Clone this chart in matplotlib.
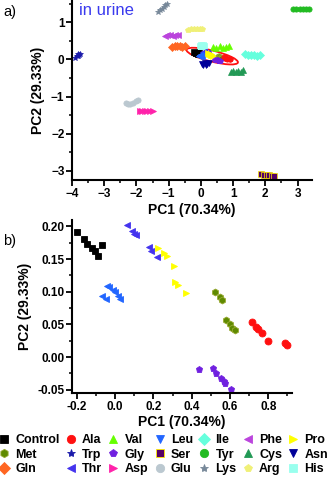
import matplotlib
matplotlib.use('Agg')
import matplotlib.pyplot as plt
from matplotlib.patches import Ellipse
from matplotlib.lines import Line2D
from matplotlib.ticker import MultipleLocator
import matplotlib.transforms as mtransforms

plt.rcParams['font.family'] = ['Liberation Sans', 'DejaVu Sans']
plt.rcParams['font.weight'] = 'bold'

# groups inside the ellipse (shown in both panels)
control_x = [-0.200, -0.160, -0.145, -0.119, -0.104, -0.089, -0.066]
control_y = [0.192, 0.180, 0.173, 0.167, 0.163, 0.155, 0.172]
thr_x = [0.061, 0.087, 0.099, 0.108, 0.177, 0.188, 0.221]
thr_y = [0.202, 0.193, 0.189, 0.187, 0.168, 0.163, 0.153]
leu_x = [-0.043, -0.031, -0.012, 0.000, -0.070, -0.049, 0.014, 0.026]
leu_y = [0.109, 0.107, 0.103, 0.100, 0.094, 0.089, 0.094, 0.089]
pro_x = [0.226, 0.257, 0.270, 0.308, 0.313, 0.330, 0.369]
pro_y = [0.167, 0.160, 0.154, 0.140, 0.115, 0.110, 0.098]
met_x = [0.522, 0.548, 0.557, 0.579, 0.600, 0.612, 0.626]
met_y = [0.100, 0.092, 0.088, 0.056, 0.050, 0.045, 0.041]
ala_x = [0.713, 0.734, 0.748, 0.769, 0.800, 0.889, 0.899]
ala_y = [0.054, 0.0465, 0.0426, 0.037, 0.025, 0.022, 0.0186]
gly_x = [0.440, 0.510, 0.527, 0.553, 0.569, 0.576, 0.604]
gly_y = [-0.019, -0.0165, -0.024, -0.0315, -0.036, -0.040, -0.0485]

# groups outside the ellipse (panel a only)
lys_x = [-1.34, -1.28, -1.22, -1.16, -1.10, -1.04]
lys_y = [1.28, 1.32, 1.37, 1.41, 1.46, 1.50]
tyr_x = [2.86, 2.96, 3.06, 3.16, 3.26, 3.35]
tyr_y = [1.35, 1.36, 1.35, 1.36, 1.35, 1.36]
arg_x = [-0.40, -0.31, -0.22, -0.13, -0.04, 0.02]
arg_y = [0.80, 0.81, 0.82, 0.81, 0.82, 0.83]
phe_x = [-1.12, -1.04, -0.96, -0.88, -0.80, -0.72]
phe_y = [0.64, 0.66, 0.65, 0.64, 0.66, 0.65]
gln_x = [-0.90, -0.82, -0.74, -0.66, -0.58, -0.50]
gln_y = [0.34, 0.36, 0.35, 0.36, 0.34, 0.35]
his_x = [-0.04, 0.00, 0.03, 0.06, 0.09]
his_y = [0.36, 0.38, 0.37, 0.39, 0.37]
val_x = [0.38, 0.48, 0.58, 0.68, 0.78, 0.88]
val_y = [0.34, 0.31, 0.36, 0.32, 0.33, 0.35]
ile_x = [1.38, 1.47, 1.56, 1.65, 1.74, 1.82]
ile_y = [0.16, 0.13, 0.11, 0.12, 0.09, 0.11]
cys_x = [0.92, 1.00, 1.08, 1.16, 1.24, 1.30]
cys_y = [-0.34, -0.32, -0.35, -0.31, -0.33, -0.28]
asn_x = [0.04, 0.08, 0.12, 0.16, 0.20, 0.25]
asn_y = [-0.12, -0.15, -0.10, -0.16, -0.13, -0.09]
trp_x = [-3.90, -3.86, -3.82, -3.80, -3.77, -3.74]
trp_y = [0.05, 0.10, 0.14, 0.08, 0.12, 0.16]
glu_x = [-2.33, -2.26, -2.20, -2.10, -2.01, -1.96]
glu_y = [-1.18, -1.20, -1.20, -1.18, -1.12, -1.08]
asp_x = [-1.90, -1.82, -1.74, -1.66, -1.58, -1.50]
asp_y = [-1.39, -1.40, -1.38, -1.40, -1.39, -1.38]
ser_x = [1.88, 1.96, 2.04, 2.12, 2.20, 2.28]
ser_y = [-3.08, -3.10, -3.12, -3.11, -3.13, -3.14]

# name: (marker, face, edge)
styles = {
    'Control': ('s', '#000000', '#000000'),
    'Ala': ('o', '#ff1010', '#ff1010'),
    'Val': ('^', '#66ff00', '#66ff00'),
    'Leu': ('v', '#2266ff', '#2266ff'),
    'Ile': ('D', '#66ffdd', '#66ffdd'),
    'Phe': ('<', '#bb44dd', '#bb44dd'),
    'Pro': ('>', '#ffff00', '#ffff00'),
    'Met': ('h', '#5f8a00', '#99aa33'),
    'Trp': ('*', '#1a1aaa', '#1a1aaa'),
    'Gly': ('p', '#7020e0', '#7020e0'),
    'Ser': ('s', '#550066', '#ffee00'),
    'Tyr': ('o', '#22bb22', '#22bb22'),
    'Cys': ('^', '#229955', '#229955'),
    'Asn': ('v', '#000099', '#000099'),
    'Gln': ('D', '#ff6622', '#ff6622'),
    'Thr': ('<', '#4433ee', '#4433ee'),
    'Asp': ('>', '#ff22aa', '#ff22aa'),
    'Glu': ('o', '#bbc8d0', '#bbc8d0'),
    'Lys': ('*', '#778899', '#778899'),
    'Arg': ('p', '#f0f077', '#f0f077'),
    'His': ('s', '#99ffee', '#99ffee'),
}

groups_a = [
    ('Lys', lys_x, lys_y), ('Tyr', tyr_x, tyr_y), ('Arg', arg_x, arg_y),
    ('Phe', phe_x, phe_y), ('Gln', gln_x, gln_y), ('His', his_x, his_y),
    ('Val', val_x, val_y), ('Ile', ile_x, ile_y), ('Cys', cys_x, cys_y),
    ('Asn', asn_x, asn_y), ('Trp', trp_x, trp_y), ('Glu', glu_x, glu_y),
    ('Asp', asp_x, asp_y), ('Ser', ser_x, ser_y),
]
groups_in = [
    ('Control', control_x, control_y), ('Thr', thr_x, thr_y),
    ('Leu', leu_x, leu_y), ('Pro', pro_x, pro_y), ('Met', met_x, met_y),
    ('Ala', ala_x, ala_y), ('Gly', gly_x, gly_y),
]

fig = plt.figure(figsize=(3.32, 4.78), dpi=100)
ax1 = fig.add_axes([0.217, 0.623, 0.723, 0.377])
ax2 = fig.add_axes([0.217, 0.178, 0.663, 0.362])


def style_axis(ax):
    for s in ['top', 'right']:
        ax.spines[s].set_visible(False)
    for s in ['left', 'bottom']:
        ax.spines[s].set_linewidth(1.5)
    ax.tick_params(which='major', direction='out', length=4, width=1.3,
                   labelsize=8.5, pad=1.5)
    ax.tick_params(which='minor', direction='out', length=2.5, width=1.1)


for name, xs, ys in groups_a:
    m, fc, ec = styles[name]
    ax1.plot(xs, ys, ls='none', marker=m, ms=3.8, mfc=fc, mec=ec, mew=0.5)
for name, xs, ys in groups_in:
    m, fc, ec = styles[name]
    if name == 'Leu':
        m = '<'
    ax1.plot(xs, ys, ls='none', marker=m, ms=3.8, mfc=fc, mec=ec, mew=0.5)

# confidence ellipse around the central cluster
trans = fig.dpi_scale_trans + mtransforms.ScaledTranslation(0.35, 0.09, ax1.transData)
ax1.add_patch(Ellipse((0, 0), 0.53, 0.11, angle=-14, fill=False,
                      edgecolor='#ff1010', lw=1.3, transform=trans))

ax1.set_xlim(-4, 3.45)
ax1.set_ylim(-3.25, 1.6)
ax1.xaxis.set_major_locator(MultipleLocator(1))
ax1.xaxis.set_minor_locator(MultipleLocator(0.5))
ax1.yaxis.set_major_locator(MultipleLocator(1))
ax1.yaxis.set_minor_locator(MultipleLocator(0.5))
style_axis(ax1)
ax1.set_xlabel('PC1 (70.34%)', fontsize=10, fontweight='bold', labelpad=2)
ax1.set_ylabel('PC2 (29.33%)', fontsize=10, fontweight='bold', labelpad=4)
ax1.text(0.03, 0.985, 'in urine', transform=ax1.transAxes, color='#3a3aee',
         fontsize=12, fontweight='normal', va='top', ha='left')

for name, xs, ys in groups_in:
    m, fc, ec = styles[name]
    if name == 'Leu':
        m = '<'
    ax2.plot(xs, ys, ls='none', marker=m, ms=5, mfc=fc, mec=ec, mew=0.6)

ax2.set_xlim(-0.225, 0.925)
ax2.set_ylim(-0.055, 0.21)
ax2.xaxis.set_major_locator(MultipleLocator(0.2))
ax2.xaxis.set_minor_locator(MultipleLocator(0.1))
ax2.yaxis.set_major_locator(MultipleLocator(0.05))
ax2.yaxis.set_minor_locator(MultipleLocator(0.025))
ax2.yaxis.set_major_formatter(plt.FormatStrFormatter('%.2f'))
ax2.xaxis.set_major_formatter(plt.FormatStrFormatter('%.1f'))
style_axis(ax2)
ax2.set_xlabel('PC1 (70.34%)', fontsize=10, fontweight='bold', labelpad=2)
ax2.set_ylabel('PC2 (29.33%)', fontsize=10, fontweight='bold', labelpad=4)

fig.text(0.01, 0.99, 'a)', fontsize=10.5, fontweight='normal', va='top')
fig.text(0.01, 0.495, 'b)', fontsize=10.5, fontweight='normal', va='center')

# legend: 3 rows x 7 columns, read row-wise in the picture
legend_rows = [
    ['Control', 'Ala', 'Val', 'Leu', 'Ile', 'Phe', 'Pro'],
    ['Met', 'Trp', 'Gly', 'Ser', 'Tyr', 'Cys', 'Asn'],
    ['Gln', 'Thr', 'Asp', 'Glu', 'Lys', 'Arg', 'His'],
]
handles = []
labels = []
for c in range(7):
    for r in range(3):
        name = legend_rows[r][c]
        m, fc, ec = styles[name]
        handles.append(Line2D([], [], ls='none', marker=m, ms=6, mfc=fc,
                              mec=ec, mew=0.6))
        labels.append(name)
fig.legend(handles, labels, ncol=7, loc='upper left',
           bbox_to_anchor=(-0.005, 0.092), frameon=False,
           prop={'weight': 'bold', 'size': 9}, handlelength=0.9,
           handletextpad=0.45, columnspacing=0.45, labelspacing=0.2,
           borderpad=0, borderaxespad=0)

fig.savefig('out.png', dpi=100)
